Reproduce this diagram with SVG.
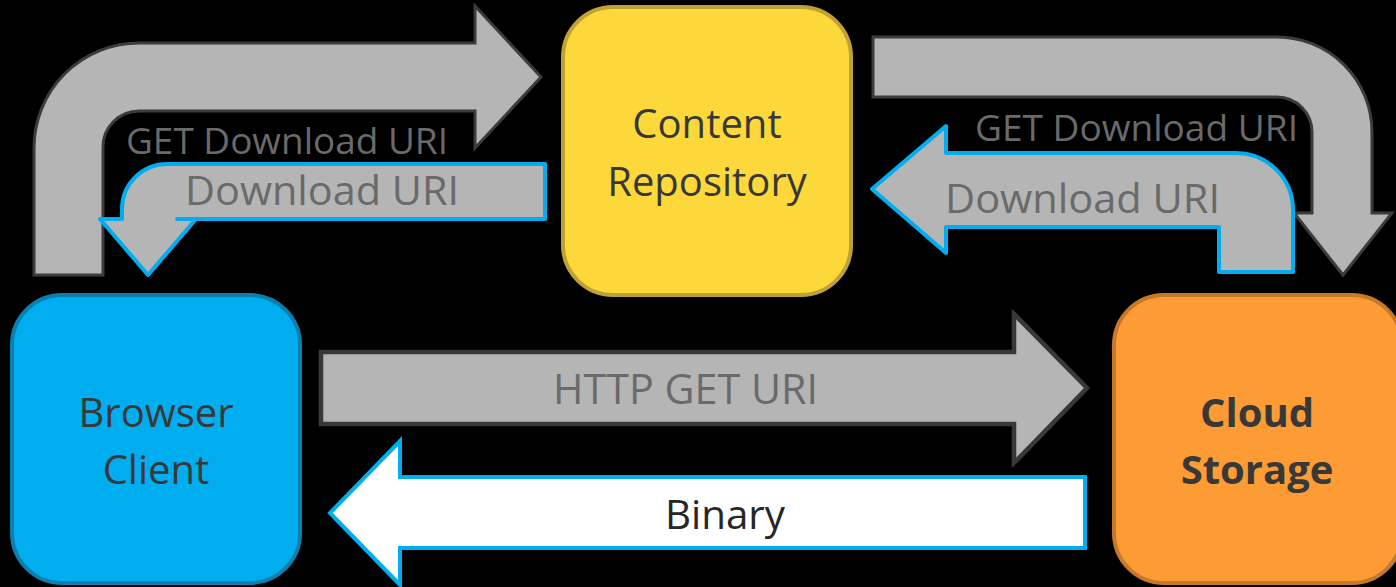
<svg xmlns="http://www.w3.org/2000/svg" width="1396" height="587" viewBox="0 0 1396 587">
  <style>
    .bg { fill: #000000; }
    .node-text { font-family: "Open Sans", "Noto Sans", "DejaVu Sans", sans-serif; font-size: 40px; fill: #383838; text-anchor: middle; }
    .bold { font-weight: bold; }
    .flow-gray { fill: #b5b5b5; stroke: #3c3c3c; stroke-width: 3; stroke-linejoin: miter; }
    .flow-strong { fill: #b5b5b5; stroke: #383838; stroke-width: 4.5; stroke-linejoin: miter; }
    .flow-blue { fill: #b5b5b5; stroke: #00adef; stroke-width: 4; stroke-linejoin: round; }
    .flow-white { fill: #ffffff; stroke: #00adef; stroke-width: 4; stroke-linejoin: miter; }
    .label { font-family: "Open Sans", "Noto Sans", "DejaVu Sans", sans-serif; fill: #6a6a6a; }
    .label-dark { font-family: "Open Sans", "Noto Sans", "DejaVu Sans", sans-serif; fill: #262626; }
  </style>

  <rect class="bg" x="0" y="0" width="1396" height="587"/>

  <!-- connectors -->
  <g id="connectors">
    <!-- Browser -> Content Repository : GET Download URI -->
    <g id="c-get-left">
      <path class="flow-gray" d="M 34 275 L 34 148 A 105 105 0 0 1 139 43 L 475 43 L 475 6 L 541 77 L 475 148 L 475 111 L 139 111 A 36 36 0 0 0 103 147 L 103 275 Z"/>
      <text class="label" x="126" y="154" font-size="36" textLength="322" lengthAdjust="spacingAndGlyphs">GET Download URI</text>
    </g>
    <!-- Content Repository -> Browser : Download URI -->
    <g id="c-uri-left">
      <path class="flow-blue" d="M 545 164 L 167 164 A 45 45 0 0 0 122 209 L 122 219 L 100 219 L 148 275 L 196 219 L 177 219 L 545 219 Z"/>
      <text class="label" x="185" y="205" font-size="40" textLength="274" lengthAdjust="spacingAndGlyphs">Download URI</text>
    </g>
    <!-- Content Repository -> Cloud Storage : GET Download URI -->
    <g id="c-get-right">
      <path class="flow-gray" d="M 873 37 L 1277 37 A 95 95 0 0 1 1372 132 L 1372 213 L 1392 213 L 1343 275 L 1294 213 L 1312 213 L 1312 132 A 35 35 0 0 0 1277 97 L 873 97 Z"/>
      <text class="label" x="975" y="141" font-size="36" textLength="323" lengthAdjust="spacingAndGlyphs">GET Download URI</text>
    </g>
    <!-- Cloud Storage -> Content Repository : Download URI -->
    <g id="c-uri-right">
      <path class="flow-blue" d="M 1219 272 L 1219 227 L 946 227 L 946 253 L 872 189 L 946 126 L 946 153 L 1236 153 A 57 57 0 0 1 1293 210 L 1293 272 Z"/>
      <text class="label" x="945" y="213" font-size="40" textLength="275" lengthAdjust="spacingAndGlyphs">Download URI</text>
    </g>
    <!-- Browser -> Cloud Storage : HTTP GET URI -->
    <g id="c-http">
      <path class="flow-strong" d="M 321 352 L 1014 352 L 1014 314 L 1087 388 L 1014 463 L 1014 424 L 321 424 Z"/>
      <text class="label" x="553" y="404" font-size="42" textLength="265" lengthAdjust="spacingAndGlyphs">HTTP GET URI</text>
    </g>
    <!-- Cloud Storage -> Browser : Binary -->
    <g id="c-binary">
      <path class="flow-white" d="M 1085 477 L 400 477 L 400 441 L 330 513 L 400 585 L 400 548 L 1085 548 Z"/>
      <text class="label-dark" x="665" y="529" font-size="40" textLength="120" lengthAdjust="spacingAndGlyphs">Binary</text>
    </g>
  </g>

  <!-- nodes -->
  <g id="content-repository">
    <rect x="563" y="7" width="288" height="288" rx="50" ry="50" fill="#fdd83b" stroke="#bfa234" stroke-width="4"/>
    <text class="node-text" x="707" y="138">Content</text>
    <text class="node-text" x="707" y="196">Repository</text>
  </g>

  <g id="browser-client">
    <rect x="12" y="295" width="288" height="288" rx="50" ry="50" fill="#00adee" stroke="#0b7fad" stroke-width="4"/>
    <text class="node-text" x="156" y="427">Browser</text>
    <text class="node-text" x="156" y="484">Client</text>
  </g>

  <g id="cloud-storage">
    <rect x="1114" y="295" width="288" height="288" rx="50" ry="50" fill="#fd9b34" stroke="#c7792b" stroke-width="4"/>
    <text class="node-text bold" x="1257" y="427">Cloud</text>
    <text class="node-text bold" x="1257" y="484">Storage</text>
  </g>
</svg>
